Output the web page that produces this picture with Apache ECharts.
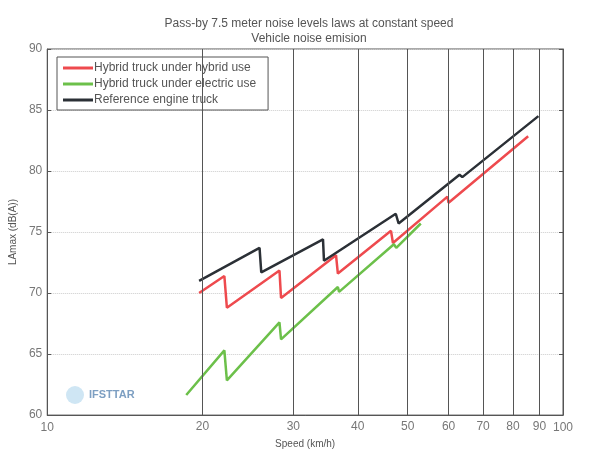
<!DOCTYPE html>
<html>
<head>
<meta charset="utf-8">
<script src="https://cdn.jsdelivr.net/npm/echarts@6/dist/echarts.min.js"></script>
<style>
  html, body { margin: 0; padding: 0; background: #fff; }
  #chart { width: 590px; height: 454px; }
</style>
</head>
<body>
<div id="chart"></div>
<script>
// speed (km/h) and LAmax (dB(A))
const hybridSpeed = [19.7, 22.05, 22.3, 28.2, 28.4, 36.3, 36.6, 46.4, 46.8, 59.7, 60.0, 85.6];
const hybridLevel = [70.0, 71.4, 68.8, 71.85, 69.6, 73.1, 71.6, 75.1, 74.1, 77.9, 77.4, 82.85];

const electricSpeed = [18.6, 22.05, 22.3, 28.2, 28.4, 36.6, 36.8, 47.0, 47.5, 53.0];
const electricLevel = [61.65, 65.3, 62.85, 67.6, 66.2, 70.5, 70.1, 74.0, 73.7, 75.7];

const referenceSpeed = [19.7, 25.8, 26.0, 34.25, 34.4, 47.4, 48.0, 63.0, 63.8, 89.6];
const referenceLevel = [71.0, 73.7, 71.7, 74.4, 72.65, 76.5, 75.7, 79.7, 79.5, 84.5];

const gridSpeeds = [20, 30, 40, 50, 60, 70, 80, 90];

function pairs(xs, ys) {
  return xs.map(function (x, i) { return [x, ys[i]]; });
}

const chart = echarts.init(document.getElementById('chart'));

chart.setOption({
  animation: false,
  backgroundColor: '#fff',
  title: {
    text: 'Pass-by 7.5 meter noise levels laws at constant speed\nVehicle noise emision',
    left: 304,
    top: 11,
    textAlign: 'center',
    textStyle: { fontSize: 12, fontWeight: 'normal', color: '#555', lineHeight: 15, fontFamily: 'Liberation Sans' }
  },
  grid: {
    left: 45, right: 27, top: 49, bottom: 32,
    show: true, borderColor: '#555', borderWidth: 1
  },
  legend: {
    orient: 'vertical',
    left: 57, top: 57,
    icon: 'rect',
    itemWidth: 30, itemHeight: 3, itemGap: 4,
    padding: [5, 12, 4, 6],
    borderColor: '#555', borderWidth: 1,
    backgroundColor: '#fff',
    textStyle: { fontSize: 12, color: '#555', padding: [0, 0, 0, -4], fontFamily: 'Liberation Sans' },
    data: ['Hybrid truck under hybrid use', 'Hybrid truck under electric use', 'Reference engine truck']
  },
  xAxis: {
    type: 'log', logBase: 10, min: 10, max: 100,
    name: 'Speed (km/h)', nameLocation: 'middle', nameGap: 17,
    nameTextStyle: { fontSize: 10, color: '#555' },
    axisLine: { lineStyle: { color: '#555' } },
    axisTick: { show: false },
    axisLabel: { fontSize: 12, color: '#777', margin: 7, fontFamily: 'Liberation Sans' },
    splitLine: { show: false }
  },
  yAxis: [{
    type: 'value', min: 60, max: 90, interval: 5,
    name: 'LAmax (dB(A))', nameLocation: 'middle', nameGap: 22,
    nameTextStyle: { fontSize: 10, color: '#555' },
    axisLine: { show: true, lineStyle: { color: '#555' } },
    axisTick: { show: true, inside: true, length: 4, lineStyle: { color: '#555' } },
    axisLabel: { fontSize: 12, color: '#777', margin: 5, fontFamily: 'Liberation Sans' },
    splitLine: { show: true, lineStyle: { color: '#ccc', type: 'dotted' } }
  }, {
    type: 'value', min: 60, max: 90, interval: 5, position: 'right',
    axisLine: { show: true, lineStyle: { color: '#555' } },
    axisTick: { show: true, inside: true, length: 4, lineStyle: { color: '#555' } },
    axisLabel: { show: false },
    splitLine: { show: false }
  }],
  series: [{
    name: 'Hybrid truck under hybrid use',
    type: 'line',
    showSymbol: false,
    color: '#ee4a4e',
    lineStyle: { width: 2.5 },
    data: pairs(hybridSpeed, hybridLevel),
    z: 3,
    markLine: {
      silent: true,
      symbol: 'none',
      animation: false,
      lineStyle: { color: '#555', width: 1, type: 'solid' },
      label: { position: 'start', formatter: '{c}', fontSize: 12, color: '#777', distance: 6, fontFamily: 'Liberation Sans' },
      data: gridSpeeds.map(function (s) { return { xAxis: s }; })
    }
  }, {
    name: 'Hybrid truck under electric use',
    type: 'line',
    showSymbol: false,
    color: '#6cc04a',
    lineStyle: { width: 2.5 },
    data: pairs(electricSpeed, electricLevel),
    z: 3
  }, {
    name: 'Reference engine truck',
    type: 'line',
    showSymbol: false,
    color: '#2b3036',
    lineStyle: { width: 2.5 },
    data: pairs(referenceSpeed, referenceLevel),
    z: 4
  }],
  graphic: [{
    type: 'group',
    left: 66, top: 386,
    children: [{
      type: 'circle',
      shape: { cx: 10, cy: 11, r: 9 },
      style: { fill: '#cfe6f4' }
    }, {
      type: 'text',
      left: 24, top: 5,
      style: { text: 'IFSTTAR', fontSize: 11, fontWeight: 'bold', fill: '#7d9fc2', fontFamily: 'Liberation Sans' }
    }]
  }]
});
</script>
</body>
</html>
